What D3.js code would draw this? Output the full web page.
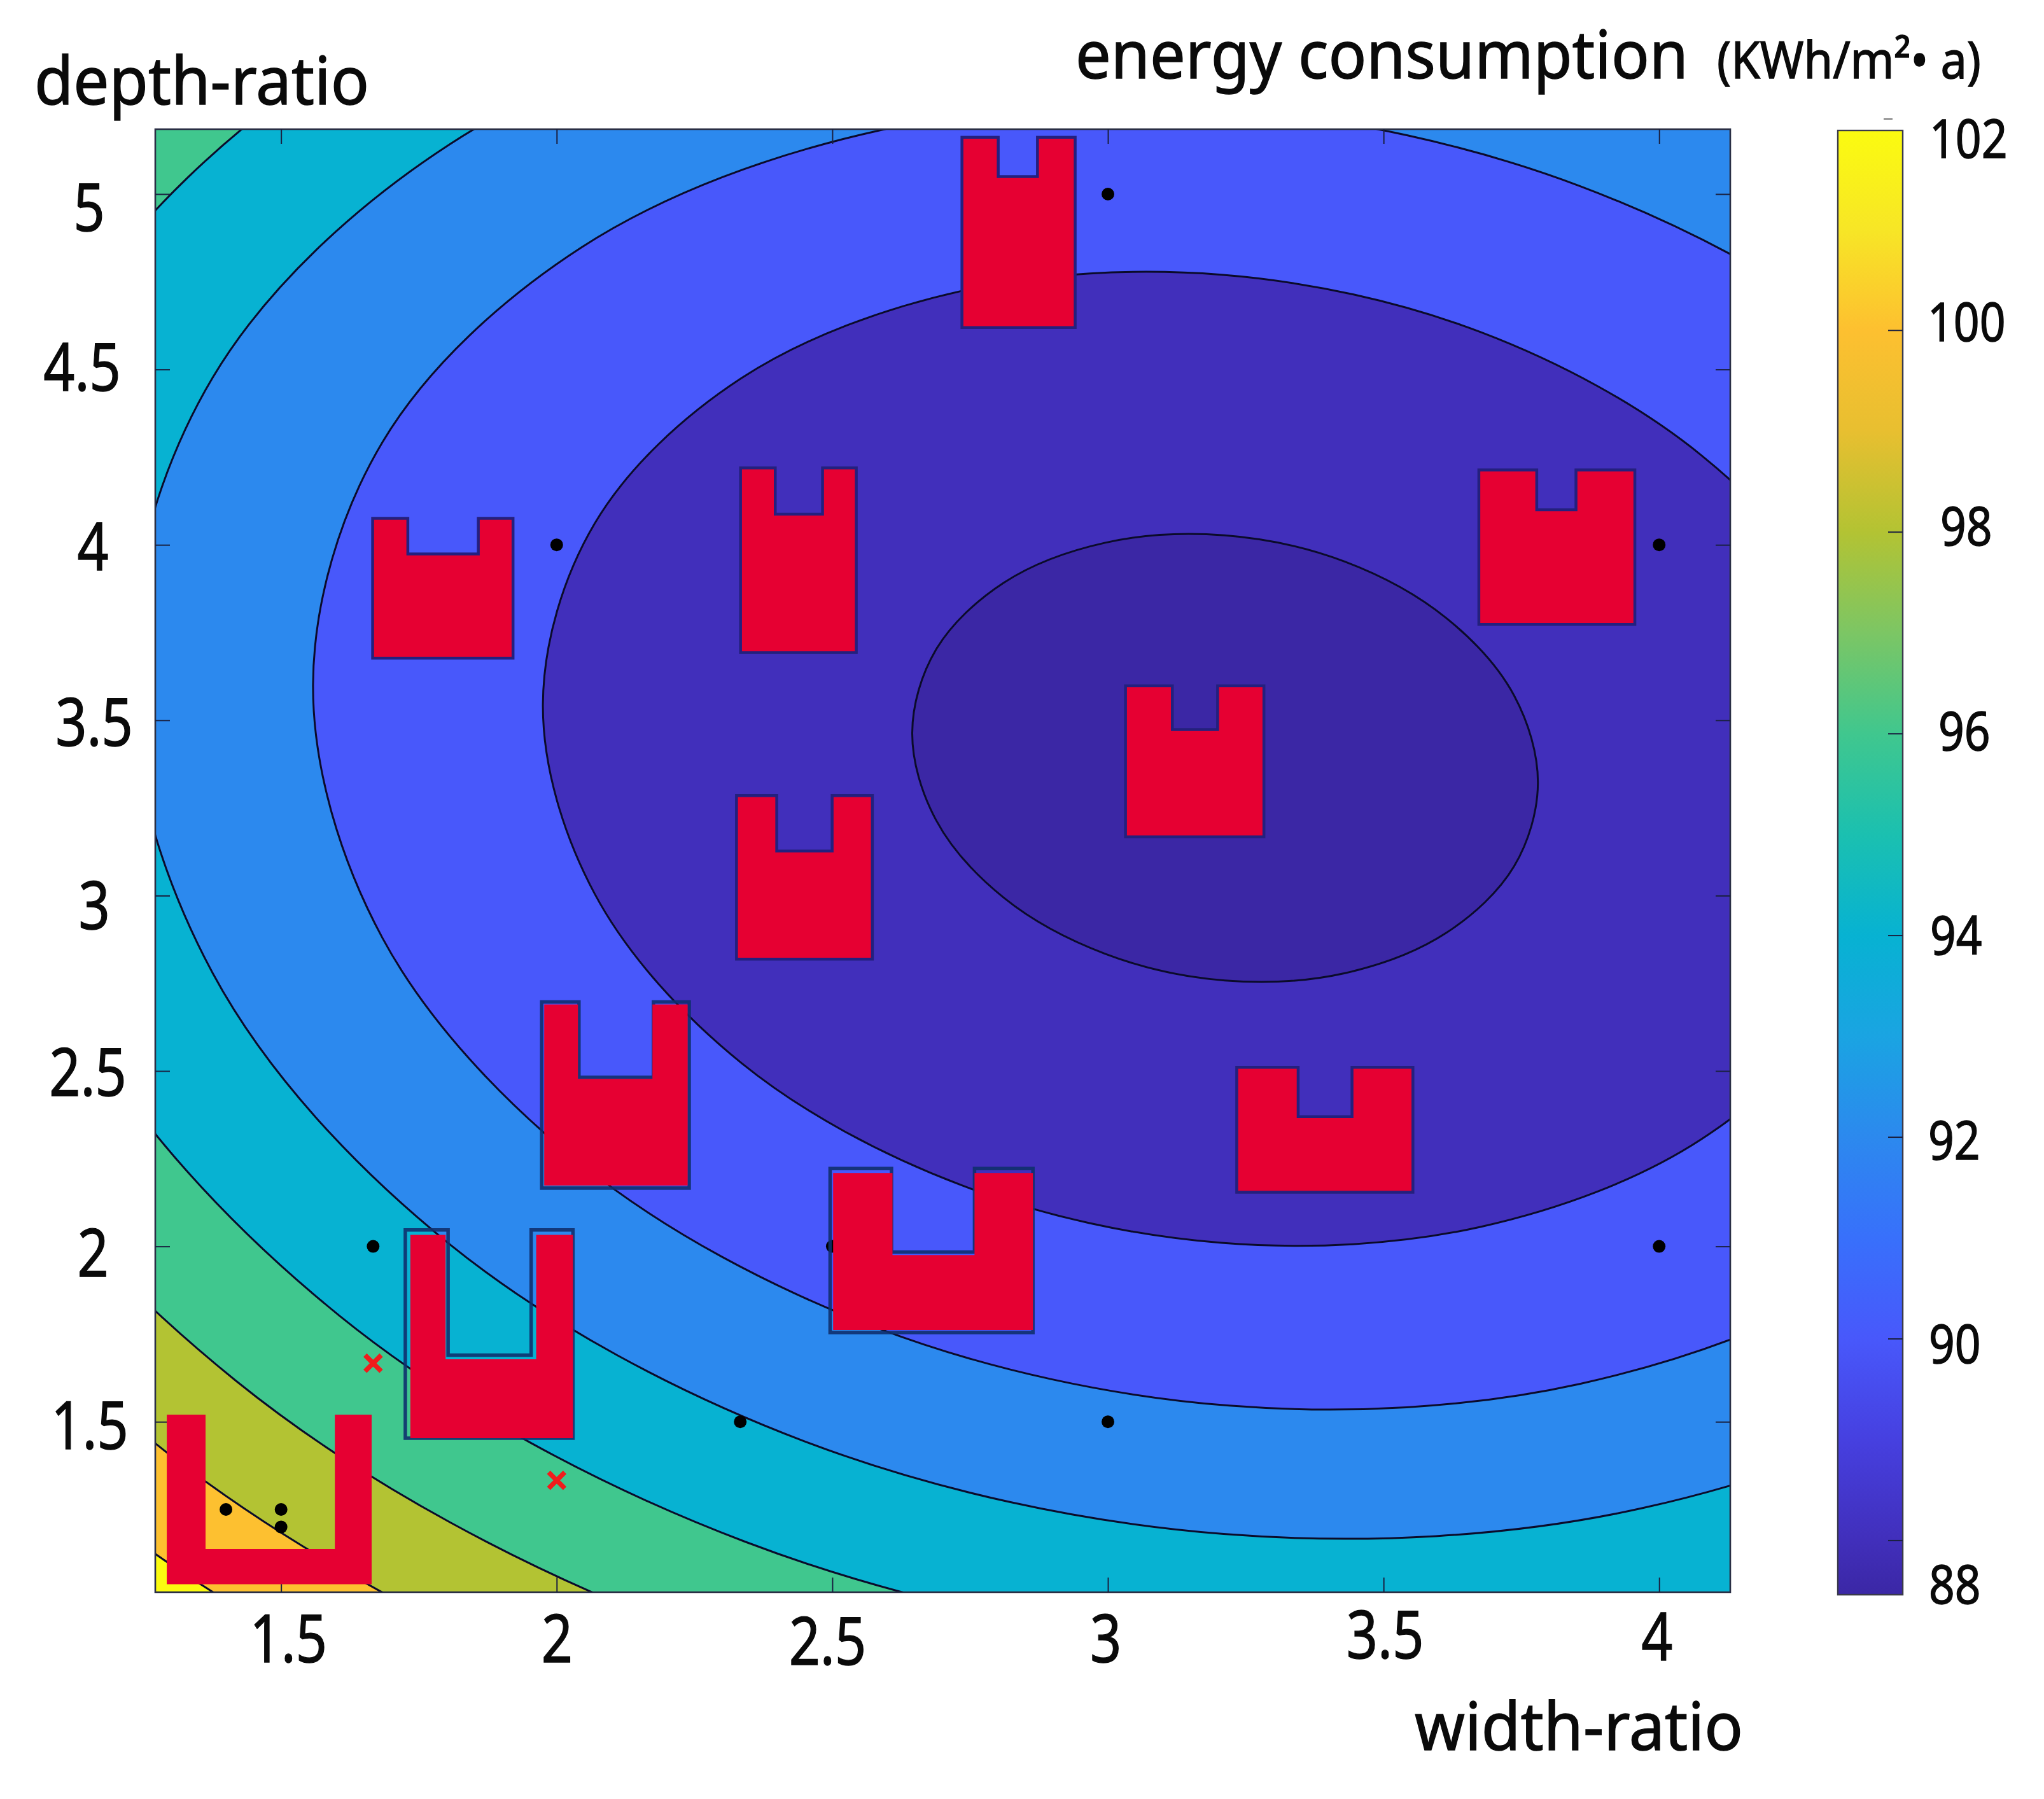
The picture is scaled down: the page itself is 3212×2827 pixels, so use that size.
<!DOCTYPE html>
<html>
<head>
<meta charset="utf-8">
<title>energy consumption contour</title>
<script src="https://cdn.jsdelivr.net/npm/d3@7"></script>
<style>
  html, body { margin: 0; padding: 0; background: #fff; }
  svg { display: block; }
  text { font-family: "Noto Sans", sans-serif; fill: #0a0a0a; stroke: #0a0a0a; stroke-width: 1.4; }
</style>
</head>
<body>
<div id="chart"></div>
<script>
// ---- values, all in axis units ----
var xTicks = [1.5, 2, 2.5, 3, 3.5, 4];
var yTicks = [5, 4.5, 4, 3.5, 3, 2.5, 2, 1.5];
var colorTicks = [102, 100, 98, 96, 94, 92, 90, 88];
var xDomain = [1.2718, 4.129];
var yDomain = [1.0142, 5.185];
var colorDomain = [87.46, 101.98];

var colorbarValues = [87.46, 88, 89, 90, 91, 92, 93, 94, 95, 96, 97, 98, 99, 100, 101, 102];
var colorbarColors = ['#3b27a5', '#412fbb', '#4640e0', '#4858fb', '#3870fb', '#2c89ee', '#1aa4e2', '#07b2d2',
  '#1bc0b0', '#40c78e', '#7cc664', '#b3c333', '#e8bf30', '#fdc030', '#f7e626', '#fbfb10'];

// contour rings, cleaned up by hand from the traced lines. Parts past the frame are guessed and get clipped
var contour1 = [[3.780,3.321],[3.737,3.084],[3.614,2.894],[3.430,2.779],[3.212,2.758],[2.995,2.834],[2.811,2.994],[2.688,3.216],
  [2.645,3.464],[2.688,3.701],[2.811,3.892],[2.995,4.006],[3.212,4.027],[3.430,3.952],[3.614,3.791],[3.737,3.570]];
var contour2 = [[4.436,3.235],[4.343,2.719],[4.076,2.305],[3.677,2.056],[3.206,2.010],[2.735,2.174],[2.335,2.523],[2.069,3.005],
  [1.975,3.545],[2.069,4.061],[2.335,4.475],[2.735,4.724],[3.206,4.770],[3.677,4.606],[4.076,4.256],[4.343,3.775]];
var contour3 = [[4.882,3.187],[4.756,2.496],[4.396,1.941],[3.856,1.608],[3.220,1.546],[2.584,1.766],[2.045,2.234],[1.684,2.879],
  [1.558,3.602],[1.684,4.293],[2.045,4.848],[2.584,5.181],[3.220,5.243],[3.856,5.023],[4.396,4.555],[4.756,3.910]];
var contour4 = [[5.196,3.149],[5.045,2.320],[4.614,1.654],[3.970,1.254],[3.210,1.180],[2.450,1.444],[1.806,2.006],[1.376,2.779],
  [1.224,3.647],[1.376,4.477],[1.806,5.142],[2.450,5.542],[3.210,5.616],[3.970,5.352],[4.614,4.790],[5.045,4.017]];
var contour5 = [[5.478,3.110],[5.305,2.160],[4.813,1.398],[4.078,0.940],[3.210,0.856],[2.342,1.158],[1.607,1.801],[1.115,2.686],
  [0.943,3.679],[1.115,4.629],[1.607,5.391],[2.342,5.849],[3.210,5.933],[4.078,5.631],[4.813,4.988],[5.305,4.103]];
var contour6 = [[5.744,3.077],[5.551,2.018],[5.002,1.168],[4.180,0.658],[3.210,0.564],[2.240,0.901],[1.418,1.617],[0.869,2.605],
  [0.676,3.712],[0.869,4.771],[1.418,5.620],[2.240,6.131],[3.210,6.225],[4.180,5.888],[5.002,5.172],[5.551,4.184]];
var contour7 = [[5.973,3.048],[5.763,1.893],[5.164,0.967],[4.267,0.410],[3.210,0.308],[2.153,0.675],[1.257,1.457],[0.658,2.533],
  [0.448,3.741],[0.658,4.896],[1.257,5.822],[2.153,6.379],[3.210,6.481],[4.267,6.114],[5.164,5.332],[5.763,4.256]];
var contour8 = [[6.179,3.022],[5.953,1.781],[5.310,0.786],[4.347,0.187],[3.210,0.077],[2.074,0.472],[1.111,1.312],[0.467,2.469],
  [0.241,3.767],[0.467,4.920],[1.111,6.003],[2.074,6.602],[3.210,6.712],[4.347,6.317],[5.310,5.477],[5.953,4.320]];

var contours = [contour8, contour7, contour6, contour5, contour4, contour3, contour2, contour1];
// level filled inside each ring, outermost first
var contourLevels = [100, 98, 96, 94, 92, 90, 88, 87.46];
var cornerLevel = 102;

// sample points
var dotX = [3, 2, 4, 1.667, 2.5, 4, 2.333, 3, 1.4, 1.5, 1.5];
var dotY = [5, 4, 4, 2, 2, 2, 1.5, 1.5, 1.25, 1.25, 1.2];
var crossX = [1.667, 2];
var crossY = [1.667, 1.333];

// plan icons: left, right, bottom, top, notch left, notch right, notch bottom
var plainIcons = [
  [2.7352, 2.9406, 4.6195, 5.1618, 2.8010, 2.8722, 5.0499],
  [1.6661, 1.9208, 3.6769, 4.0757, 1.7300, 1.8578, 3.9739],
  [2.3335, 2.5435, 3.6927, 4.2192, 2.3965, 2.4823, 4.0872],
  [2.3262, 2.5727, 2.8189, 3.2852, 2.3992, 2.4997, 3.1274],
  [3.0319, 3.2830, 3.1676, 3.5980, 3.1169, 3.1990, 3.4732],
  [3.6729, 3.9559, 3.7730, 4.2135, 3.7779, 3.8491, 4.1001],
  [3.2337, 3.5533, 2.1546, 2.5104, 3.3451, 3.4428, 2.3698]
];
// these three have their outline a little off the red fill
var shiftedOutlines = [
  [1.9728, 2.2404, 2.1661, 2.6969, 2.0404, 2.1755, 2.4817],
  [2.4960, 2.8640, 1.7543, 2.2221, 2.6074, 2.7580, 1.9839],
  [1.7254, 2.0295, 1.4531, 2.0470, 1.8030, 1.9537, 1.6898]
];
var shiftedFills = [
  [1.9774, 2.2376, 2.1733, 2.6898, 2.0386, 2.1737, 2.4774],
  [2.5015, 2.8640, 1.7615, 2.2092, 2.6092, 2.7580, 1.9753],
  [1.7345, 2.0295, 1.4531, 2.0327, 1.7985, 1.9628, 1.6783]
];
// the big one in the corner has no outline
var bareIcons = [
  [1.2927, 1.6643, 1.0370, 1.5205, 1.3630, 1.5976, 1.1374]
];

// ---- layout ----
var width = 3212, height = 2827;
var plot = { left: 244, right: 2719, top: 203, bottom: 2502 };
var bar = { left: 2888, right: 2990, top: 205, bottom: 2506 };
var tickLen = 23;

// label nudges from each tick, the labels were pasted by hand in the original
var xLabelNudge = [[11,110],[0,110],[-8,114],[-4,110],[2,104],[-4,107]];
var yLabelNudge = [[-104,58],[-115,33],[-98,39],[-96,40],[-96,52],[-106,38],[-98,47],[-103,42]];
var barLabelNudge = [[42,46],[39,17],[59,21],[56,26],[43,30],[40,35],[41,38],[41,99]];

var svg = d3.select('#chart').append('svg')
  .attr('width', width)
  .attr('height', height)
  .attr('viewBox', '0 0 ' + width + ' ' + height);

var xScale = d3.scaleLinear().domain(xDomain).range([plot.left, plot.right]);
var yScale = d3.scaleLinear().domain(yDomain).range([plot.bottom, plot.top]);
var barScale = d3.scaleLinear().domain(colorDomain).range([bar.bottom, bar.top]);
var colorScale = d3.scaleLinear().domain(colorbarValues).range(colorbarColors);

var defs = svg.append('defs');
defs.append('clipPath').attr('id', 'plotClip')
  .append('rect')
  .attr('x', plot.left).attr('y', plot.top)
  .attr('width', plot.right - plot.left)
  .attr('height', plot.bottom - plot.top);

// ---- filled contours ----
var field = svg.append('g').attr('clip-path', 'url(#plotClip)');

field.append('rect')
  .attr('x', plot.left).attr('y', plot.top)
  .attr('width', plot.right - plot.left)
  .attr('height', plot.bottom - plot.top)
  .attr('fill', colorScale(cornerLevel));

var ringLine = d3.line()
  .x(function (d) { return xScale(d[0]); })
  .y(function (d) { return yScale(d[1]); })
  .curve(d3.curveCatmullRomClosed.alpha(0.5));

contours.forEach(function (pts, i) {
  field.append('path')
    .attr('d', ringLine(pts))
    .attr('fill', colorScale(contourLevels[i]))
    .attr('stroke', '#0b0b2a')
    .attr('stroke-width', 3);
});

// ---- frame and ticks ----
svg.append('rect')
  .attr('x', plot.left).attr('y', plot.top)
  .attr('width', plot.right - plot.left)
  .attr('height', plot.bottom - plot.top)
  .attr('fill', 'none')
  .attr('stroke', '#2a2f45')
  .attr('stroke-width', 2.6);

function styleTicks(g) {
  g.select('.domain').remove();
  g.selectAll('.tick line').attr('stroke', '#1a2040').attr('stroke-width', 2);
}
function placeLabels(g, nudge, scaleX, size, anchor) {
  g.selectAll('.tick text')
    .attr('x', 0).attr('y', 0).attr('dy', 0)
    .attr('text-anchor', anchor)
    .attr('font-size', size)
    .attr('transform', function (d, i) {
      return 'translate(' + nudge[i][0] + ',' + nudge[i][1] + ') scale(' + scaleX + ',1)';
    });
}

var xAxisG = svg.append('g')
  .attr('transform', 'translate(0,' + plot.bottom + ')')
  .call(d3.axisBottom(xScale).tickValues(xTicks).tickFormat(String).tickSize(-tickLen));
styleTicks(xAxisG);
placeLabels(xAxisG, xLabelNudge, 0.82, 105, 'middle');

var yAxisG = svg.append('g')
  .attr('transform', 'translate(' + plot.left + ',0)')
  .call(d3.axisLeft(yScale).tickValues(yTicks).tickFormat(String).tickSize(-tickLen));
styleTicks(yAxisG);
placeLabels(yAxisG, yLabelNudge, 0.82, 105, 'middle');

var xTopG = svg.append('g')
  .attr('transform', 'translate(0,' + plot.top + ')')
  .call(d3.axisTop(xScale).tickValues(xTicks).tickFormat('').tickSize(-tickLen));
styleTicks(xTopG);
var yRightG = svg.append('g')
  .attr('transform', 'translate(' + plot.right + ',0)')
  .call(d3.axisRight(yScale).tickValues(yTicks).tickFormat('').tickSize(-tickLen));
styleTicks(yRightG);

// ---- sample points, under the icons: one dot is half hidden in the original ----
svg.append('g').selectAll('circle').data(d3.range(dotX.length)).enter().append('circle')
  .attr('cx', function (i) { return xScale(dotX[i]); })
  .attr('cy', function (i) { return yScale(dotY[i]); })
  .attr('r', 10)
  .attr('fill', '#000');

var crosses = d3.range(crossX.length);
svg.append('g').selectAll('path').data(crosses).enter().append('path')
  .attr('d', d3.symbol().type(d3.symbolX).size(420))
  .attr('transform', function (i) { return 'translate(' + xScale(crossX[i]) + ',' + yScale(crossY[i]) + ')'; })
  .attr('fill', 'none')
  .attr('stroke', '#f01c1c')
  .attr('stroke-width', 7.5);

// ---- plan icons ----
function iconPath(s) {
  var p = d3.path();
  p.moveTo(xScale(s[0]), yScale(s[3]));
  p.lineTo(xScale(s[4]), yScale(s[3]));
  p.lineTo(xScale(s[4]), yScale(s[6]));
  p.lineTo(xScale(s[5]), yScale(s[6]));
  p.lineTo(xScale(s[5]), yScale(s[3]));
  p.lineTo(xScale(s[1]), yScale(s[3]));
  p.lineTo(xScale(s[1]), yScale(s[2]));
  p.lineTo(xScale(s[0]), yScale(s[2]));
  p.closePath();
  return p.toString();
}

var icons = svg.append('g');
icons.selectAll('path.outlineShift').data(shiftedOutlines).enter().append('path')
  .attr('class', 'outlineShift')
  .attr('d', iconPath)
  .attr('fill', 'none')
  .attr('stroke', '#10306e')
  .attr('stroke-opacity', 0.9)
  .attr('stroke-width', 5.5);
icons.selectAll('path.redFill').data(plainIcons.concat(shiftedFills, bareIcons)).enter().append('path')
  .attr('class', 'redFill')
  .attr('d', iconPath)
  .attr('fill', '#e60032');
icons.selectAll('path.outlinePlain').data(plainIcons).enter().append('path')
  .attr('class', 'outlinePlain')
  .attr('d', iconPath)
  .attr('fill', 'none')
  .attr('stroke', '#24207e')
  .attr('stroke-width', 4.5);

// ---- colorbar ----
var grad = defs.append('linearGradient').attr('id', 'parula')
  .attr('x1', 0).attr('x2', 0).attr('y1', 1).attr('y2', 0);
grad.selectAll('stop').data(colorbarValues).enter().append('stop')
  .attr('offset', function (d) { return Math.max(0, Math.min(1, (bar.bottom - barScale(d)) / (bar.bottom - bar.top))); })
  .attr('stop-color', function (d) { return colorScale(d); });

svg.append('rect')
  .attr('x', bar.left).attr('y', bar.top)
  .attr('width', bar.right - bar.left)
  .attr('height', bar.bottom - bar.top)
  .attr('fill', 'url(#parula)')
  .attr('stroke', '#3a3a4a')
  .attr('stroke-width', 2.4);

var barAxisG = svg.append('g')
  .attr('transform', 'translate(' + bar.right + ',0)')
  .call(d3.axisRight(barScale).tickValues(colorTicks).tickFormat(String).tickSize(-tickLen));
styleTicks(barAxisG);
placeLabels(barAxisG, barLabelNudge, 0.85, 84, 'start');
barAxisG.selectAll('.tick line').filter(function (d) { return d === 102; }).remove();

// stray tick mark above the bar
svg.append('line')
  .attr('x1', 2960).attr('x2', 2974)
  .attr('y1', 187).attr('y2', 187)
  .attr('stroke', '#777')
  .attr('stroke-width', 2);

// ---- titles ----
function title(str, x, y, size, len) {
  svg.append('text')
    .attr('x', x).attr('y', y)
    .attr('font-size', size)
    .attr('textLength', len)
    .attr('lengthAdjust', 'spacingAndGlyphs')
    .text(str);
}
title('depth-ratio', 54, 164, 104, 526);
title('energy consumption', 1690, 123, 104, 963);
title('(KWh/m²• a)', 2698, 123, 80, 415);
title('width-ratio', 2223, 2750, 104, 516);
</script>
</body>
</html>
